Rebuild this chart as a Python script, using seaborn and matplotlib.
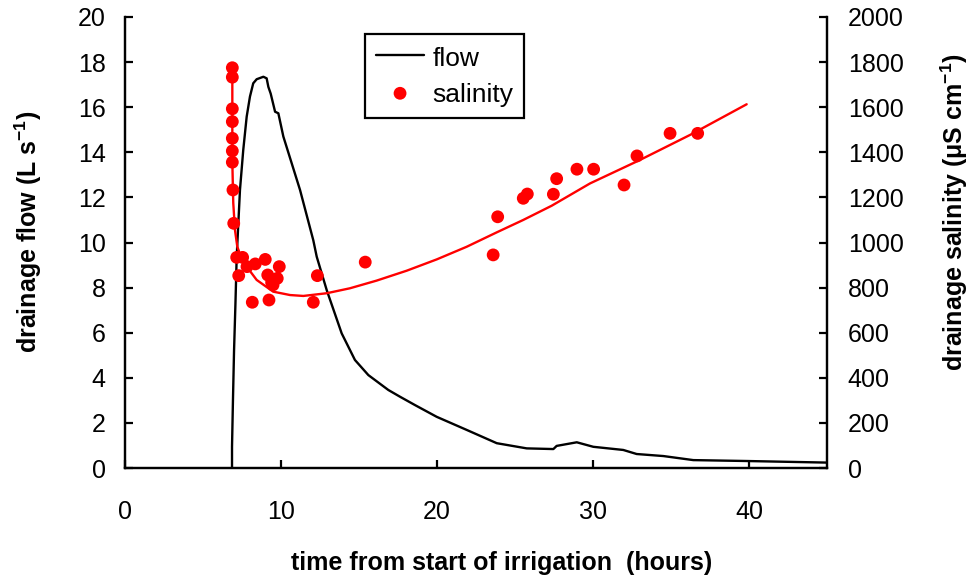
import matplotlib
matplotlib.use("Agg")
import matplotlib.pyplot as plt
import seaborn as sns
import pandas as pd

# ---- data ----
flow_hours = [6.86, 6.86, 6.92, 6.99, 7.08, 7.16, 7.37, 7.58, 7.80, 8.01, 8.22, 8.44, 8.87, 9.08,
              9.19, 9.34, 9.62, 9.83, 10.15, 11.22, 12.07, 12.29, 12.93, 13.89, 14.74, 15.60,
              16.88, 17.63, 18.59, 19.98, 21.90, 23.83, 25.75, 27.46, 27.67, 28.96, 30.02,
              31.94, 32.80, 34.51, 36.43, 39.85, 44.98]
flow_values = [0.0, 0.94, 3.0, 5.2, 7.3, 9.37, 12.33, 14.1, 15.58, 16.47, 17.06, 17.24, 17.35, 17.28,
               16.9, 16.6, 15.8, 15.73, 14.7, 12.33, 10.1, 9.37, 7.89, 5.97, 4.79, 4.12,
               3.46, 3.16, 2.79, 2.27, 1.69, 1.10, 0.87, 0.84, 0.98, 1.14, 0.94,
               0.80, 0.62, 0.53, 0.35, 0.31, 0.24]

sal_hours = [6.88, 6.88, 6.88, 6.88, 6.88, 6.88, 6.88, 6.92, 6.97, 7.16, 7.54, 7.29, 7.82, 8.35,
             8.99, 9.89, 9.15, 9.76, 9.40, 9.49, 8.16, 9.23, 12.07, 12.33, 15.40, 23.60, 23.89,
             25.53, 25.79, 27.46, 27.67, 28.97, 30.04, 31.99, 32.82, 34.94, 36.71]
sal_values = [1775, 1733, 1593, 1536, 1462, 1406, 1356, 1233, 1085, 934, 934, 853, 893, 905,
              925, 893, 856, 841, 823, 812, 735, 745, 735, 853, 913, 945, 1114,
              1196, 1215, 1214, 1283, 1325, 1325, 1255, 1384, 1484, 1484]

fit_hours = [6.88, 6.88, 6.88, 6.92, 6.94, 7.05, 7.20, 7.44, 7.80, 8.44, 9.50, 10.58, 11.43,
             12.93, 14.42, 16.13, 18.06, 19.98, 21.90, 23.83, 25.53, 27.35, 29.81, 33.01,
             36.22, 39.85]
fit_values = [1775, 1596, 1357, 1233, 1175, 1055, 981, 936, 893, 834, 782, 767, 763,
              775, 797, 831, 875, 925, 981, 1045, 1100, 1163, 1262, 1366,
              1477, 1613]

x_ticks = [0, 10, 20, 30, 40]
flow_ticks = [0, 2, 4, 6, 8, 10, 12, 14, 16, 18, 20]
sal_ticks = [0, 200, 400, 600, 800, 1000, 1200, 1400, 1600, 1800, 2000]

flow_df = pd.DataFrame({"hours": flow_hours, "flow": flow_values})
sal_df = pd.DataFrame({"hours": sal_hours, "salinity": sal_values})
fit_df = pd.DataFrame({"hours": fit_hours, "salinity": fit_values})

# ---- styling ----
sns.set_style("white")
plt.rcParams["font.family"] = ["Liberation Sans", "DejaVu Sans"]
plt.rcParams["mathtext.default"] = "regular"
plt.rcParams["text.color"] = "black"
plt.rcParams["axes.labelcolor"] = "black"
plt.rcParams["xtick.color"] = "black"
plt.rcParams["ytick.color"] = "black"

fig = plt.figure(figsize=(9.78, 5.83), dpi=100)
ax = fig.add_axes([125 / 978, 1 - 468 / 583, 702 / 978, 451 / 583])
ax2 = ax.twinx()

sns.lineplot(data=flow_df, x="hours", y="flow", ax=ax, color="black", lw=1.7,
             estimator=None, sort=False, label="flow", legend=False)
sns.lineplot(data=fit_df, x="hours", y="salinity", ax=ax2, color="#ff0000", lw=1.7,
             estimator=None, sort=False, legend=False)
sns.scatterplot(data=sal_df, x="hours", y="salinity", ax=ax2, color="#ff0000", s=85,
                edgecolor="none", label="salinity", legend=False, zorder=3)

ax.set_xlim(0, 45)
ax.set_ylim(0, 20)
ax2.set_ylim(0, 2000)
ax.set_xticks(x_ticks)
ax.set_yticks(flow_ticks)
ax2.set_yticks(sal_ticks)

for a in (ax, ax2):
    for side in ("left", "right", "bottom"):
        a.spines[side].set_visible(True)
        a.spines[side].set_color("black")
        a.spines[side].set_linewidth(1.6)
    a.spines["top"].set_visible(False)

ax.tick_params(axis="x", direction="in", length=6, width=1.6, labelsize=18, pad=23, bottom=True,
               colors="black")
ax.tick_params(axis="y", direction="in", length=6, width=1.6, labelsize=18, pad=14, left=True,
               colors="black")
ax2.tick_params(axis="y", direction="in", length=6, width=1.6, labelsize=18, pad=15, right=True,
                colors="black")

ax.set_xlabel("time from start of irrigation  (hours)", fontsize=18, fontweight="bold")
ax.xaxis.label.set_va("center")
ax.xaxis.set_label_coords(0.536, -0.211)
ax.set_ylabel("drainage flow (L s$^{-1}$)", fontsize=18, fontweight="bold")
ax.yaxis.label.set_va("center")
ax.yaxis.set_label_coords(-0.138, 0.523)
ax2.set_ylabel("drainage salinity (\u03bcS cm$^{-1}$)", fontsize=18, fontweight="bold")
ax2.yaxis.label.set_va("center")
ax2.yaxis.set_label_coords(1.182, 0.568)

h1, l1 = ax.get_legend_handles_labels()
h2, l2 = ax2.get_legend_handles_labels()
leg = ax2.legend(h1 + h2, l1 + l2, loc="upper left", bbox_to_anchor=(0.342, 0.962),
                 borderaxespad=0, fontsize=19, frameon=True, fancybox=False, framealpha=1,
                 edgecolor="black", handlelength=1.85, handletextpad=0.3, handleheight=1.05,
                 borderpad=0.4, labelspacing=0.39)
leg.get_frame().set_linewidth(1.6)

fig.savefig("out.png", dpi=100)
